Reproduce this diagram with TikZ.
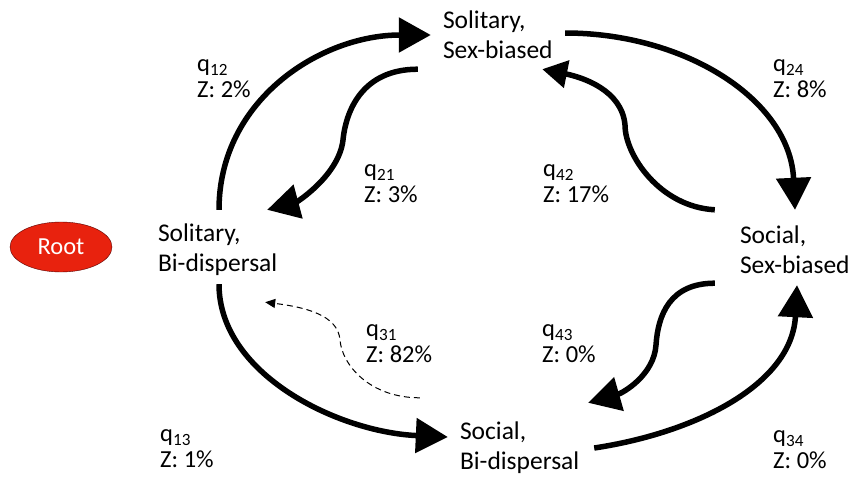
\documentclass[tikz,border=0pt]{standalone}
\usepackage{fontspec}
\setmainfont{Carlito}
\usetikzlibrary{arrows.meta,shapes.geometric}

\definecolor{rootred}{HTML}{E8220E}

\begin{document}
\begin{tikzpicture}[
    x=1pt,y=-1pt,
    state/.style={rectangle,text width=122pt,minimum height=80pt,inner sep=12pt,
                  align=left,font=\fontsize{25.5}{30}\selectfont},
    rate/.style={anchor=west,inner sep=0pt,align=left,
                 font=\fontsize{24.5}{26}\selectfont},
    root/.style={ellipse,draw=red!35!black,fill=rootred,minimum width=102pt,
                 minimum height=50pt,inner sep=0pt,text=white,
                 font=\fontsize{24.5}{26}\selectfont},
    trans/.style={-{Triangle[length=32pt,width=34pt]},line width=5.5pt},
    rare/.style={-{Triangle[length=10pt,width=9pt]},line width=1pt,
                 dash pattern=on 6pt off 4pt}
]
\useasboundingbox (0,0) rectangle (854,479);

\node[root] (root) at (61,247) {Root};

% the four states
\node[state] (b1) at (219,250) {Solitary,\\Bi-dispersal};
\node[state] (s1) at (504,35) {Solitary,\\Sex-biased};
\node[state] (s2) at (801,250) {Social,\\Sex-biased};
\node[state] (b2) at (521,448) {Social,\\Bi-dispersal};

% rates
\node[rate] (q12) at (197,79) {q\textsubscript{12}\\Z: 2\%};
\node[rate] (q21) at (364,184) {q\textsubscript{21}\\Z: 3\%};
\node[rate] (q42) at (543,184) {q\textsubscript{42}\\Z: 17\%};
\node[rate] (q24) at (773,79) {q\textsubscript{24}\\Z: 8\%};
\node[rate] (q31) at (366,344) {q\textsubscript{31}\\Z: 82\%};
\node[rate] (q43) at (542,344) {q\textsubscript{43}\\Z: 0\%};
\node[rate] (q13) at (160,449) {q\textsubscript{13}\\Z: 1\%};
\node[rate] (q34) at (773,450) {q\textsubscript{34}\\Z: 0\%};

% outer loop
\draw[trans] (b1.north) .. controls +(0,-110) and +(-110,0) .. (s1.west);
\draw[trans] ([shift={(-12,-2)}]s1.east) .. controls +(120,0) and +(-5,-110) .. ([shift={(-6,0)}]s2.north);
\draw[trans] (b2.east) .. controls +(100,-15) and +(-5,100) .. ([shift={(-4,-5)}]s2.south);
\draw[trans] ([shift={(0,-6)}]b1.south) .. controls +(0,90) and +(-110,-5) .. ([shift={(0,-11)}]b2.west);

% inner, wavy returns
\draw[trans] ([shift={(-13,-6)}]s1.south west) .. controls +(-55,0) and +(3,-30) .. (343,140)
    .. controls +(-4,35) and +(30,-8) .. ([shift={(-25,0)}]b1.north east);
\draw[trans,-{Triangle[length=25pt,width=27pt]}] ([shift={(-13,0)}]s2.north west)
    .. controls +(-55,-3) and +(0,30) .. (625,125)
    .. controls +(-3,-35) and +(40,8) .. ([shift={(-35,-6)}]s1.south east);
\draw[trans] ([shift={(-13,-7)}]s2.south west) .. controls +(-45,0) and +(2,-30) .. (656,345)
    .. controls +(-2,30) and +(35,-10) .. ([shift={(-6,-5)}]b2.north east);
\draw[rare] ([shift={(-28,-10)}]b2.north west) .. controls +(-50,0) and +(2,25) .. (340,340)
    .. controls +(-2,-25) and +(40,5) .. ([shift={(-27,12)}]b1.south east);
\end{tikzpicture}
\end{document}
